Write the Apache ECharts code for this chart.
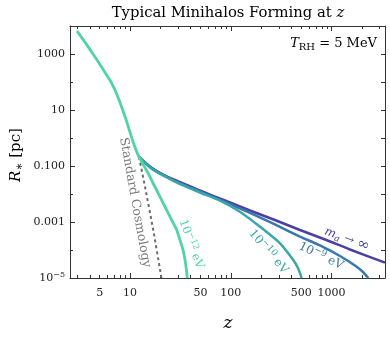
<!DOCTYPE html>
<html>
<head>
<meta charset="utf-8">
<script src="https://cdn.jsdelivr.net/npm/echarts@6/dist/echarts.min.js"></script>
<style>
  html, body { margin: 0; padding: 0; background: #fff; }
  #main { width: 390px; height: 339px; }
</style>
</head>
<body>
<div id="main"></div>
<script>
// 曲线数据 [z, R*(pc)]
var curve12 = [
  [2.98, 6620], [3.58, 2620], [4.30, 1000], [5.04, 422], [5.78, 193], [6.48, 100],
  [7.10, 51.8], [7.69, 25.7], [8.33, 11.8], [9.03, 5.18], [9.77, 2.10], [10.59, 0.848],
  [11.47, 0.373], [12.3, 0.21], [13.8, 0.1], [15.2, 0.054], [16.9, 0.0247], [19.1, 0.0106],
  [21.4, 0.00466], [24.0, 0.00205], [26.4, 0.00104], [29.1, 5.18e-4], [31.3, 2.28e-4],
  [33.6, 1e-4], [35.2, 4.4e-5], [36.3, 1.93e-5], [37.0, 1e-5]
];
var curve10 = [
  [12.3, 0.21], [16.5, 0.0781], [27.9, 0.0279], [49.5, 0.0113], [78.2, 0.00577],
  [123, 0.00233], [195, 6.8e-4], [308, 1.73e-4], [417, 4.4e-5], [464, 2.28e-5], [505, 1e-5]
];
var curve9 = [
  [12.3, 0.21], [16.5, 0.0807], [27.9, 0.0296], [49.5, 0.0123], [87.5, 0.00518],
  [155, 0.0021], [274, 8.15e-4], [486, 3.03e-4], [767, 1.45e-4], [1211, 6.1e-5],
  [1706, 2.79e-5], [2050, 1.64e-5], [2313, 1e-5]
];
var curveInf = [
  [12.3, 0.21], [14.1, 0.133], [16.5, 0.0849], [20.8, 0.0518], [27.9, 0.0316],
  [49.5, 0.0133], [87.5, 0.00586], [155, 0.00258], [274, 0.00118], [486, 5.18e-4],
  [861, 2.37e-4], [1524, 1.04e-4], [3390, 3.52e-5]
];
var standardCosmology = [
  [12.3, 0.21], [14.1, 0.0182], [17.0, 5.18e-4], [19.9, 1.93e-5], [20.5, 1e-5]
];

// 坐标轴刻度
var xMajorTicks = [10, 100, 1000];
var xMinorTicks = [3, 4, 5, 6, 7, 8, 9, 20, 30, 40, 50, 60, 70, 80, 90,
  200, 300, 400, 500, 600, 700, 800, 900, 2000, 3000];
var xTickLabels = [5, 10, 50, 100, 500, 1000];
var yMajorTicks = [1e-5, 1e-3, 0.1, 10, 1000];
var yMinorTicks = [1e-4, 1e-2, 1, 100, 1e4];
var yTickLabels = ['{b|10}{s|−5}', '0.001', '0.100', '10', '1000'];

// 曲线标注 [z, R, 角度]
var labelSC = [11.2, 0.00497, -79.7];
var label12 = [40.3, 1.64e-4, -70];
var label10 = [236, 8.7e-5, -49.7];
var label9 = [785, 6.1e-5, -25.7];
var labelInf = [1422, 2.47e-4, -20];

var serif = 'DejaVu Serif';
var frame = '#333';

function xAxisOf(pos, ticks, len, withLabels, withLine) {
  return {
    type: 'log', min: 2.54, max: 3390, position: pos,
    axisLine: { show: withLine, lineStyle: { color: frame, width: 1 } },
    axisTick: { show: true, inside: true, length: len, customValues: ticks, lineStyle: { color: frame, width: 1 } },
    axisLabel: withLabels ? {
      show: true, customValues: xTickLabels, margin: 10, color: '#222',
      fontFamily: serif, fontSize: 11,
      formatter: function (v) { return String(Math.round(v)); }
    } : { show: false },
    splitLine: { show: false }
  };
}

function yAxisOf(pos, ticks, len, withLabels, withLine) {
  return {
    type: 'log', min: 1e-5, max: 1e4, position: pos,
    axisLine: { show: withLine, lineStyle: { color: frame, width: 1 } },
    axisTick: { show: true, inside: true, length: len, customValues: ticks, lineStyle: { color: frame, width: 1 } },
    axisLabel: withLabels ? {
      show: true, customValues: yMajorTicks, margin: 5, color: '#222',
      fontFamily: serif, fontSize: 11,
      formatter: function (v) {
        var best = 0;
        for (var i = 0; i < yMajorTicks.length; i++) {
          if (Math.abs(Math.log10(v) - Math.log10(yMajorTicks[i])) < 0.01) best = i;
        }
        return yTickLabels[best];
      },
      rich: {
        b: { fontFamily: serif, fontSize: 11, color: '#222', lineHeight: 14 },
        s: { fontFamily: serif, fontSize: 8, color: '#222', lineHeight: 8, verticalAlign: 'top' }
      }
    } : { show: false },
    splitLine: { show: false }
  };
}

function lineSeries(name, data, color, width, dashed) {
  return {
    name: name, type: 'line', data: data, xAxisIndex: 0, yAxisIndex: 0,
    showSymbol: false, smooth: 0.25, silent: true,
    lineStyle: { color: color, width: width, type: dashed ? [3, 3] : 'solid' }
  };
}

var chart = echarts.init(document.getElementById('main'));

var option = {
  animation: false,
  backgroundColor: '#fff',
  grid: { left: 70, right: 5, top: 26, bottom: 61 },
  xAxis: [
    xAxisOf('bottom', xMajorTicks, 5, true, true),
    xAxisOf('bottom', xMinorTicks, 3, false, false),
    xAxisOf('top', xMajorTicks, 5, false, true),
    xAxisOf('top', xMinorTicks, 3, false, false)
  ],
  yAxis: [
    yAxisOf('left', yMajorTicks, 5, true, true),
    yAxisOf('left', yMinorTicks, 3, false, false),
    yAxisOf('right', yMajorTicks, 4, false, true),
    yAxisOf('right', yMinorTicks, 4, false, false)
  ],
  series: [
    lineSeries('Standard Cosmology', standardCosmology, '#6b6b6b', 2, true),
    lineSeries('m_a → ∞', curveInf, '#4a40a4', 2.5),
    lineSeries('1e-9 eV', curve9, '#3978ae', 2.5),
    lineSeries('1e-10 eV', curve10, '#37a8a6', 2.5),
    lineSeries('1e-12 eV', curve12, '#4fd3a7', 2.8)
  ]
};
chart.setOption(option);

function curveLabel(pos, text, color, rich) {
  var p = chart.convertToPixel({ xAxisIndex: 0, yAxisIndex: 0 }, [pos[0], pos[1]]);
  return {
    type: 'text', x: p[0], y: p[1], rotation: pos[2] * Math.PI / 180, silent: true,
    style: { text: text, fill: color, align: 'center', verticalAlign: 'middle', rich: rich }
  };
}

function richOf(color, size) {
  return {
    n: { fontFamily: serif, fontSize: size, color: color, lineHeight: size + 4 },
    i: { fontFamily: serif, fontStyle: 'italic', fontSize: size, color: color, lineHeight: size + 4 },
    s: { fontFamily: serif, fontSize: size - 3, color: color, lineHeight: size - 4, verticalAlign: 'top' },
    d: { fontFamily: serif, fontSize: size - 3, color: color, lineHeight: size - 4, verticalAlign: 'bottom' },
    di: { fontFamily: serif, fontStyle: 'italic', fontSize: size - 3, color: color, lineHeight: size - 4, verticalAlign: 'bottom' },
    big: { fontFamily: serif, fontSize: size + 3, color: color, lineHeight: size + 4 }
  };
}

chart.setOption({
  graphic: [
    {
      type: 'text', x: 228, y: 13, silent: true,
      style: { text: '{n|Typical Minihalos Forming at }{i|z}', align: 'center', verticalAlign: 'middle', rich: richOf('#222', 14.8) }
    },
    {
      type: 'text', x: 377, y: 44, silent: true,
      style: { text: '{i|T}{d|RH}{n| = 5 MeV}', align: 'right', verticalAlign: 'middle', rich: richOf('#222', 13) }
    },
    {
      type: 'text', x: 16, y: 155, rotation: Math.PI / 2, silent: true,
      style: { text: '{i|R}{d|∗}{n| [pc]}', align: 'center', verticalAlign: 'middle', rich: richOf('#222', 15) }
    },
    {
      type: 'text', x: 228, y: 324, silent: true,
      style: { text: '{i|z}', align: 'center', verticalAlign: 'middle', rich: richOf('#222', 17) }
    },
    curveLabel(labelSC, '{n|Standard Cosmology}', '#7a7a7a', richOf('#7a7a7a', 12.5)),
    curveLabel(label12, '{n|10}{s|−12}{n| eV}', '#4fd3a7', richOf('#4fd3a7', 11.5)),
    curveLabel(label10, '{n|10}{s|−10}{n| eV}', '#37a8a6', richOf('#37a8a6', 12)),
    curveLabel(label9, '{n|10}{s|−9}{n| eV}', '#3978ae', richOf('#3978ae', 12)),
    curveLabel(labelInf, '{i|m}{di|a}{n| → }{big|∞}', '#4a40a4', richOf('#4a40a4', 12))
  ]
});
window.onresize = chart.resize;
</script>
</body>
</html>
